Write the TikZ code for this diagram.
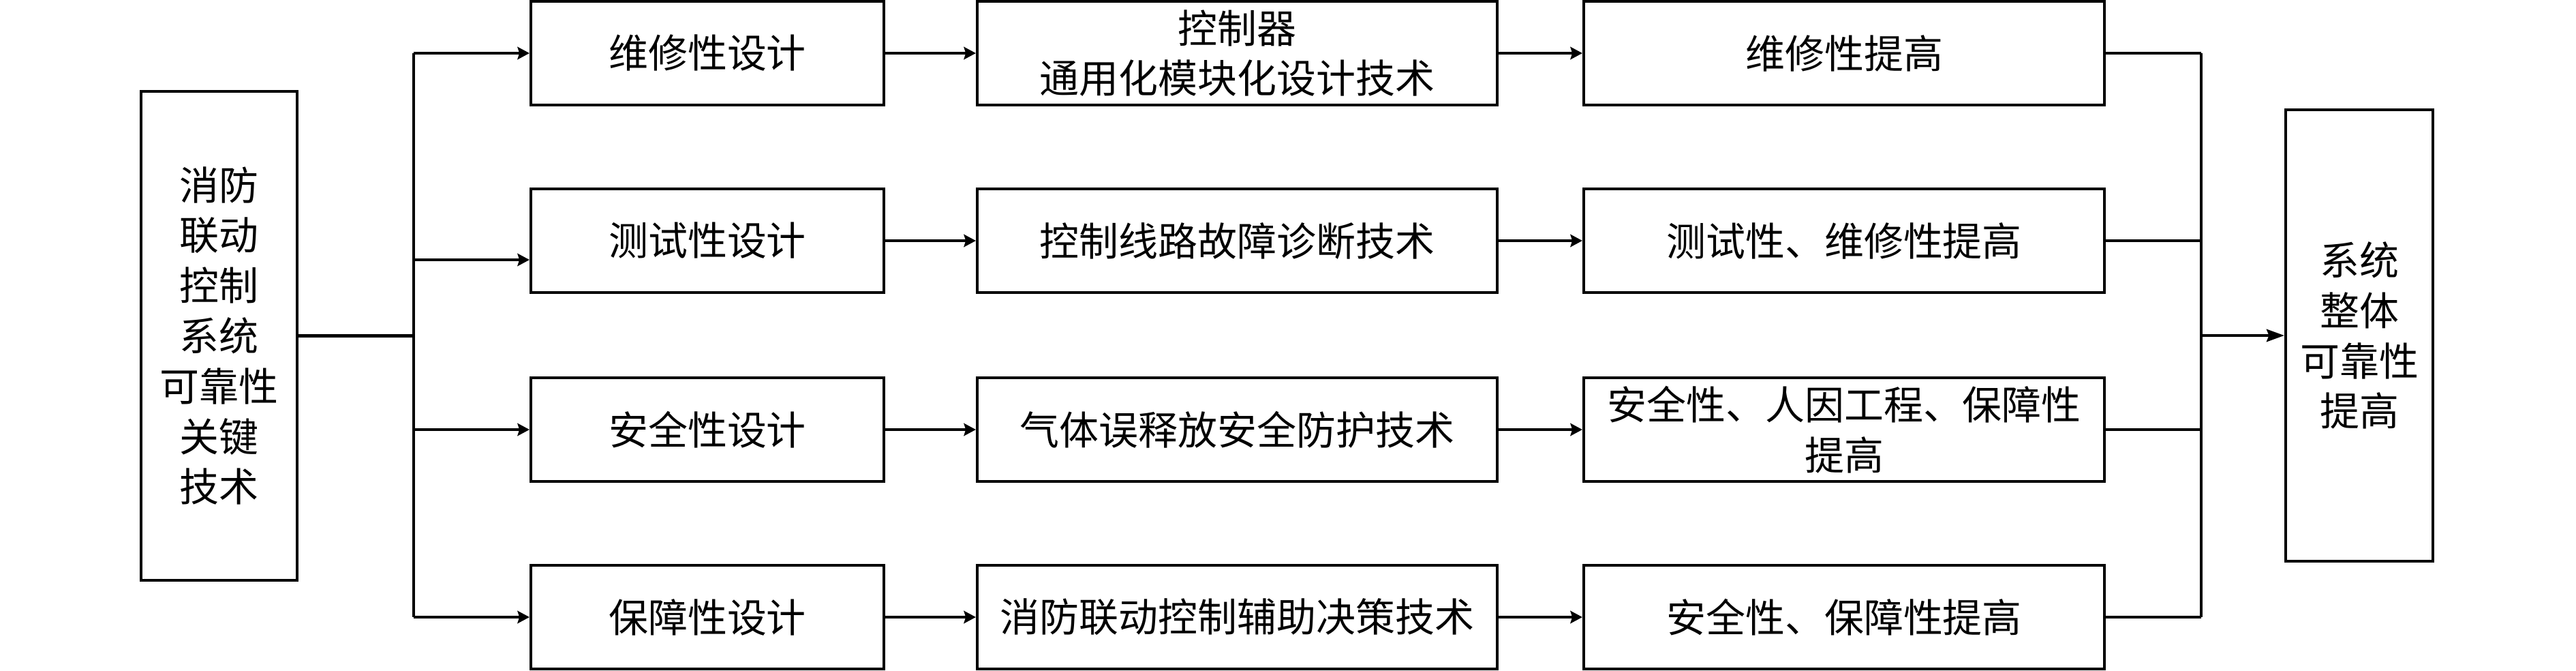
\documentclass[tikz,border=0pt]{standalone}
\usepackage{fontspec}
\setmainfont{Noto Sans CJK SC}
\usepackage{tikz}
\usetikzlibrary{positioning,calc,arrows.meta}

\begin{document}
\begin{tikzpicture}[
    box/.style={draw, line width=1.15pt, inner sep=0pt, align=center,
        font=\fontsize{16.5}{21}\selectfont},
    colbox/.style={box, minimum height=1.52cm},
    arr/.style={-{Stealth[length=5pt,width=5.2pt,inset=0.8pt]}, line width=1.15pt},
    bigarr/.style={-{Stealth[length=7.4pt,width=5.2pt,inset=1pt]}, line width=1.15pt},
    conn/.style={line width=1.15pt}
]
    \useasboundingbox (0,0) rectangle (37.8,9.83);

    % Left and right boxes
    \node[box, minimum width=2.29cm, minimum height=7.17cm] (src) at (3.215,4.905)
        {消防\\联动\\控制\\系统\\可靠性\\关键\\技术};
    \node[box, minimum width=2.16cm, minimum height=6.62cm] (res) at (34.62,4.91)
        {系统\\整体\\可靠性\\提高};

    % Design boxes
    \node[colbox, minimum width=5.18cm] (d1) at (10.38,9.05) {维修性设计};
    \node[colbox, minimum width=5.18cm] (d2) at (10.38,6.30) {测试性设计};
    \node[colbox, minimum width=5.18cm] (d3) at (10.38,3.53) {安全性设计};
    \node[colbox, minimum width=5.18cm] (d4) at (10.38,0.78) {保障性设计};

    % Technique boxes
    \node[colbox, minimum width=7.63cm] (t1) at (18.155,9.05) {控制器\\通用化模块化设计技术};
    \node[colbox, minimum width=7.63cm] (t2) at (18.155,6.30) {控制线路故障诊断技术};
    \node[colbox, minimum width=7.63cm] (t3) at (18.155,3.53) {气体误释放安全防护技术};
    \node[colbox, minimum width=7.63cm] (t4) at (18.155,0.78) {消防联动控制辅助决策技术};

    % Result boxes
    \node[colbox, minimum width=7.64cm] (r1) at (27.06,9.05) {维修性提高};
    \node[colbox, minimum width=7.64cm] (r2) at (27.06,6.30) {测试性、维修性提高};
    \node[colbox, minimum width=7.64cm] (r3) at (27.06,3.53) {安全性、人因工程、保障性\\提高};
    \node[colbox, minimum width=7.64cm] (r4) at (27.06,0.78) {安全性、保障性提高};

    % Branch points
    \coordinate (br0) at (6.07,4.905);
    \coordinate (br1) at (6.07,9.05);
    \coordinate (br2) at (6.07,6.02);
    \coordinate (br3) at (6.07,3.53);
    \coordinate (br4) at (6.07,0.78);
    \coordinate (mg0) at (32.30,4.91);
    \coordinate (mg1) at (32.30,9.05);
    \coordinate (mg4) at (32.30,0.78);

    % Branching
    \draw[conn] (src.east) -- (br0);
    \draw[conn] (br1) -- (br4);
    \draw[arr] (br1) -- (d1.west);
    \draw[arr] (br2) -- (br2 -| d2.west);
    \draw[arr] (br3) -- (d3.west);
    \draw[arr] (br4) -- (d4.west);

    % Rows
    \draw[arr] (d1) -- (t1);
    \draw[arr] (d2) -- (t2);
    \draw[arr] (d3) -- (t3);
    \draw[arr] (d4) -- (t4);
    \draw[arr] (t1) -- (r1);
    \draw[arr] (t2) -- (r2);
    \draw[arr] (t3) -- (r3);
    \draw[arr] (t4) -- (r4);

    % Merging
    \draw[conn] (r1.east) -- (mg1);
    \draw[conn] (r2.east) -- (r2.east -| mg1);
    \draw[conn] (r3.east) -- (r3.east -| mg1);
    \draw[conn] (r4.east) -- (mg4);
    \draw[conn] (mg1) -- (mg4);
    \draw[bigarr] (mg0) -- (res.west);
\end{tikzpicture}
\end{document}
